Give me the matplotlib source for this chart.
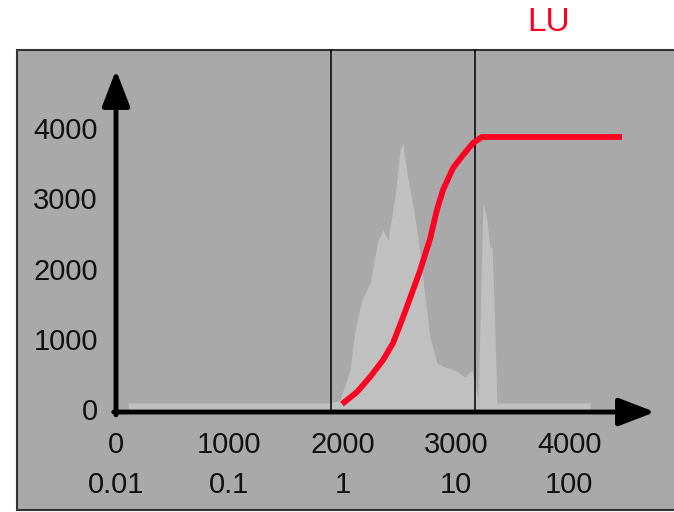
import numpy as np
import matplotlib.pyplot as plt
from matplotlib.patches import Rectangle

plt.rcParams['font.family'] = ['Liberation Sans', 'DejaVu Sans']

# tick labels (two rows on x)
x_ticks = [0, 1000, 2000, 3000, 4000]
x_ticks_2 = ['0.01', '0.1', '1', '10', '100']
y_ticks = [0, 1000, 2000, 3000, 4000]

# LU curve (red)
lu_x = [1995, 2127, 2242, 2357, 2445, 2524, 2595, 2683, 2771, 2833,
        2886, 2974, 3063, 3151, 3230, 4466]
lu_y = [114, 285, 498, 740, 982, 1310, 1620, 2010, 2460, 2880,
        3160, 3473, 3658, 3829, 3915, 3915]

# background histogram envelope
hist_x = [106, 1889, 1977, 2065, 2109, 2171, 2242, 2312, 2357, 2401, 2462,
          2507, 2533, 2568, 2613, 2665, 2727, 2771, 2833, 2904, 2992, 3080,
          3142, 3195, 3213, 3239, 3274, 3301, 3319, 3336, 3363, 4184]
hist_y = [128, 128, 171, 598, 1167, 1594, 1836, 2448, 2591, 2448, 3060,
          3730, 3829, 3402, 3018, 2491, 1637, 1068, 698, 641, 598, 498,
          598, 171, 1267, 2975, 2733, 2349, 2349, 1552, 128, 128]

# vertical markers
vlines = [1898, 3169]

fig = plt.figure(figsize=(6.74, 5.12), dpi=100)
ax = fig.add_axes([0, 0, 1, 1])
ax.set_xlim(-1024, 4925)
ax.set_ylim(-1423, 5865)
ax.axis('off')

# gray panel
ax.add_patch(Rectangle((17 / 674, 2 / 512), 1.0, 460 / 512, transform=ax.transAxes,
                       facecolor='#a9a9a9', edgecolor='#333333', lw=1.5, zorder=0))

ax.fill_between(hist_x, 0, hist_y, color='#c0c0c0', lw=0, zorder=1)

for v in vlines:
    ax.plot([v, v], [0, 5150], color='black', lw=1.1, zorder=2)

ax.plot(lu_x, lu_y, color='#ff0022', lw=4.2, solid_capstyle='butt',
        solid_joinstyle='round', zorder=4)

# arrow axes
head = '-|>,head_length=1.3,head_width=0.5'
ax.annotate('', xy=(4757, 0), xytext=(-20, 0),
            arrowprops=dict(arrowstyle=head, color='black', lw=3.5,
                            mutation_scale=17, shrinkA=0, shrinkB=0), zorder=5)
ax.annotate('', xy=(0, 4868), xytext=(0, -40),
            arrowprops=dict(arrowstyle=head, color='black', lw=3.5,
                            mutation_scale=17, shrinkA=0, shrinkB=0), zorder=5)

fs = 21
for t in y_ticks:
    ax.text(-160, t, str(t), ha='right', va='center', fontsize=fs, color='#111111')
for t, s in zip(x_ticks, x_ticks_2):
    ax.text(t, -470, str(t), ha='center', va='center', fontsize=fs, color='#111111')
    ax.text(t, -1040, s, ha='center', va='center', fontsize=fs, color='#111111')

ax.text(3815, 5550, 'LU', ha='center', va='center', fontsize=24, color='#ff0022')

plt.savefig('out.png', dpi=100)
